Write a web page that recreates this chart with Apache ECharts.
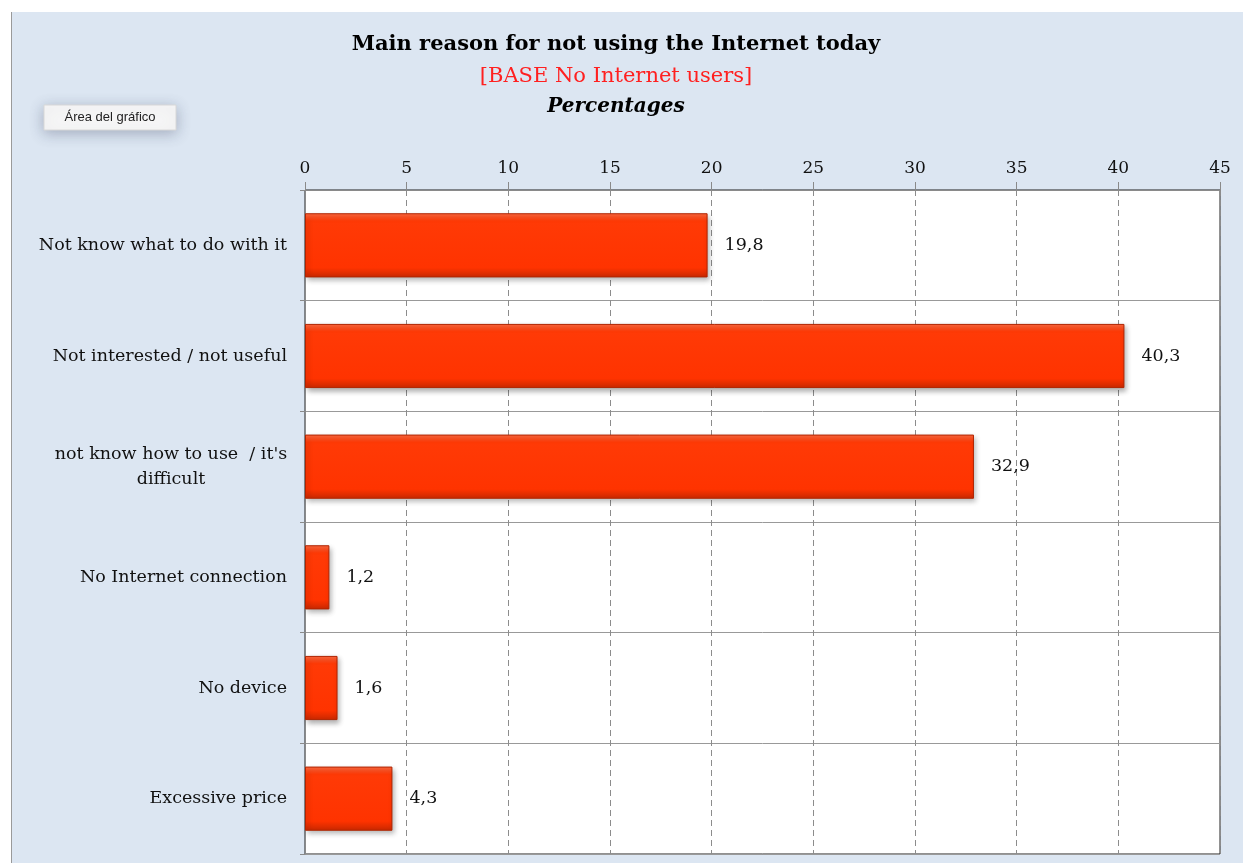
<!DOCTYPE html>
<html>
<head>
<meta charset="utf-8">
<script src="https://cdn.jsdelivr.net/npm/echarts@6/dist/echarts.min.js"></script>
<style>
  html, body { margin: 0; padding: 0; background: #ffffff; }
  #chart {
    position: absolute;
    left: 11px;
    top: 12px;
    width: 1232px;
    height: 851px;
    border-left: 1px solid #9a9a9a;
    background: #dce6f2;
  }
</style>
</head>
<body>
<div id="chart"></div>
<script>
// categories (top to bottom) and their percentages
const categories = [
  'Not know what to do with it',
  'Not interested / not useful',
  "not know how to use  / it's\ndifficult",
  'No Internet connection',
  'No device',
  'Excessive price'
];
const values = [19.8, 40.3, 32.9, 1.2, 1.6, 4.3];
const axisTicks = [0, 5, 10, 15, 20, 25, 30, 35, 40, 45];

const serif = '"DejaVu Serif", "Liberation Serif", serif';

const myChart = echarts.init(document.getElementById('chart'));

const option = {
  backgroundColor: '#dce6f2',
  animation: false,
  graphic: [
    {
      type: 'text', x: 604, y: 33,
      style: {
        text: 'Main reason for not using the Internet today',
        font: 'bold 21px ' + serif, fill: '#000', align: 'center', verticalAlign: 'middle'
      }
    },
    {
      type: 'text', x: 604, y: 65,
      style: {
        text: '[BASE No Internet users]',
        font: '21px ' + serif, fill: '#ff2020', align: 'center', verticalAlign: 'middle'
      }
    },
    {
      type: 'text', x: 604, y: 95,
      style: {
        text: 'Percentages',
        font: 'italic bold 20px ' + serif, fill: '#000', align: 'center', verticalAlign: 'middle'
      }
    },
    // "Área del gráfico" hint box
    {
      type: 'group', x: 32, y: 93,
      children: [
        {
          type: 'rect', shape: { x: 0, y: 0, width: 132, height: 25 },
          style: {
            fill: '#f7f7f7', stroke: '#d8d8d8', lineWidth: 1,
            shadowBlur: 14, shadowColor: 'rgba(60,70,100,0.35)', shadowOffsetY: 3
          }
        },
        {
          type: 'text', x: 66, y: 12.5,
          style: {
            text: 'Área del gráfico',
            font: '13px "Liberation Sans", "DejaVu Sans", sans-serif',
            fill: '#222', align: 'center', verticalAlign: 'middle'
          }
        }
      ]
    }
  ],
  grid: {
    left: 293,
    right: 24,
    top: 178,
    bottom: 9,
    show: true,
    backgroundColor: '#ffffff',
    borderColor: '#222222',
    borderWidth: 1
  },
  xAxis: {
    type: 'value',
    position: 'top',
    min: axisTicks[0],
    max: axisTicks[axisTicks.length - 1],
    interval: 5,
    axisLine: { show: true, lineStyle: { color: '#8a8a8a', width: 1 } },
    axisTick: { show: true, length: 8, lineStyle: { color: '#8a8a8a' } },
    axisLabel: {
      color: '#111', fontFamily: serif, fontSize: 17, margin: 13
    },
    splitLine: {
      show: true,
      lineStyle: { color: '#8c8c8c', type: [6, 4], width: 1 }
    }
  },
  yAxis: {
    type: 'category',
    inverse: true,
    data: categories,
    axisLine: { show: true, lineStyle: { color: '#8a8a8a' } },
    axisTick: { show: true, length: 5, lineStyle: { color: '#8a8a8a' } },
    splitLine: { show: true, lineStyle: { color: '#999999', width: 1 } },
    axisLabel: {
      color: '#111',
      fontFamily: serif,
      fontSize: 17.5,
      margin: 18,
      lineHeight: 25,
      formatter: function (val) {
        if (val.indexOf('\n') >= 0) {
          return val.split('\n').map(s => '{c|' + s + '}').join('\n');
        }
        return val;
      },
      rich: {
        c: { width: 232, align: 'center', fontFamily: serif, fontSize: 17.5, color: '#111', lineHeight: 25 }
      }
    }
  },
  series: [
    {
      type: 'bar',
      data: values,
      barWidth: '58%',
      itemStyle: {
        color: new echarts.graphic.LinearGradient(0, 0, 0, 1, [
          { offset: 0, color: '#ff6a40' },
          { offset: 0.12, color: '#ff3a06' },
          { offset: 0.85, color: '#ff3300' },
          { offset: 1, color: '#c82800' }
        ]),
        borderColor: '#b02400',
        borderWidth: 1,
        shadowBlur: 5,
        shadowOffsetX: 2,
        shadowOffsetY: 3,
        shadowColor: 'rgba(0,0,0,0.3)'
      },
      label: {
        show: true,
        position: 'right',
        distance: 17,
        color: '#111',
        fontFamily: serif,
        fontSize: 17.5,
        formatter: function (p) {
          return String(p.value).replace('.', ',');
        }
      }
    }
  ]
};

myChart.setOption(option);
window.addEventListener('resize', () => myChart.resize());
</script>
</body>
</html>
